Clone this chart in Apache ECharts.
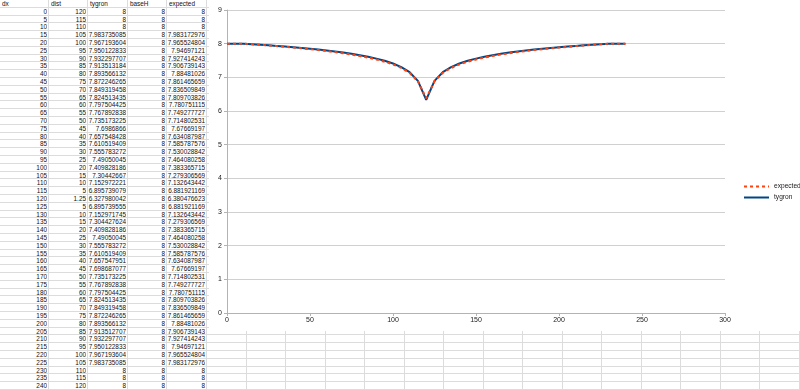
<!DOCTYPE html>
<html><head><meta charset="utf-8">
<script src="https://cdn.jsdelivr.net/npm/echarts@6/dist/echarts.min.js"></script>
<style>
html,body{margin:0;padding:0;background:#fff;width:800px;height:390px;overflow:hidden;}
#sheet{position:absolute;left:0;top:0;width:800px;height:390px;font-family:"Liberation Sans",Arial,sans-serif;font-size:6.4px;color:#111;}
.hl{position:absolute;left:0;width:800px;height:1px;background:#dcdcdc;}
.vl{position:absolute;top:0;width:1px;height:390px;background:#dcdcdc;}
.c{position:absolute;height:7.8px;line-height:7.8px;white-space:nowrap;overflow:hidden;}
#chart{position:absolute;left:209px;top:0;width:591px;height:331px;background:#fff;}
</style></head>
<body>
<div id="sheet"></div>
<div id="chart"></div>
<script>
const headers = ['dx','dist','tygron','baseH','expected'];
const dx = [0,5,10,15,20,25,30,35,40,45,50,55,60,65,70,75,80,85,90,95,100,105,110,115,120,125,130,135,140,145,150,155,160,165,170,175,180,185,190,195,200,205,210,215,220,225,230,235,240];
const dist = [120,115,110,105,100,95,90,85,80,75,70,65,60,55,50,45,40,35,30,25,20,15,10,5,1.25,5,10,15,20,25,30,35,40,45,50,55,60,65,70,75,80,85,90,95,100,105,110,115,120];
const tygron = [8,8,8,7.983735085,7.967193604,7.950122833,7.932297707,7.913513184,7.893566132,7.872246265,7.849319458,7.824513435,7.797504425,7.767892838,7.735173225,7.6986866,7.657548428,7.610519409,7.555783272,7.49050045,7.409828186,7.30442667,7.152972221,6.895739079,6.327980042,6.895739555,7.152971745,7.304427624,7.409828186,7.49050045,7.555783272,7.610519409,7.657547951,7.698687077,7.735173225,7.767892838,7.797504425,7.824513435,7.849319458,7.872246265,7.893566132,7.913512707,7.932297707,7.950122833,7.967193604,7.983735085,8,8,8];
const baseH = [8,8,8,8,8,8,8,8,8,8,8,8,8,8,8,8,8,8,8,8,8,8,8,8,8,8,8,8,8,8,8,8,8,8,8,8,8,8,8,8,8,8,8,8,8,8,8,8,8];
const expected = [8,8,8,7.983172976,7.965524804,7.94697121,7.927414243,7.906739143,7.88481026,7.861465659,7.836509849,7.809703826,7.780751115,7.749277727,7.714802531,7.67669197,7.634087987,7.585787576,7.530028842,7.464080258,7.383365715,7.279306569,7.132643442,6.881921169,6.380476623,6.881921169,7.132643442,7.279306569,7.383365715,7.464080258,7.530028842,7.585787576,7.634087987,7.67669197,7.714802531,7.749277727,7.780751115,7.809703826,7.836509849,7.861465659,7.88481026,7.906739143,7.927414243,7.94697121,7.965524804,7.983172976,8,8,8];
const xTicks = {min:0,max:300,interval:50};
const yTicks = {min:0,max:9,interval:1};

// spreadsheet
const sheet = document.getElementById('sheet');
const rowH = 7.8;
const colEdges = [0,49,88,128,167,207];
let x = 207; while (x < 800) { x += 39.5; colEdges.push(x); }
let html = '';
for (let r = 1; r * rowH < 392; r++) html += `<div class="hl" style="top:${(r*rowH-1).toFixed(2)}px"></div>`;
for (let k = 1; k < colEdges.length; k++) html += `<div class="vl" style="left:${(colEdges[k]-1).toFixed(2)}px"></div>`;
const cols = [dx, dist, tygron, baseH, expected];
headers.forEach((h, j) => {
  html += `<div class="c" style="top:0;left:${colEdges[j]+2}px;width:${colEdges[j+1]-colEdges[j]-3}px">${h}</div>`;
});
for (let i = 0; i < dx.length; i++) {
  cols.forEach((col, j) => {
    html += `<div class="c" style="top:${((i+1)*rowH).toFixed(2)}px;left:${colEdges[j]}px;width:${colEdges[j+1]-colEdges[j]-2}px;text-align:right">${String(col[i])}</div>`;
  });
}
sheet.innerHTML = html;

// chart
const chart = echarts.init(document.getElementById('chart'), null, {renderer:'canvas'});
const lbl = {color:'#222', fontSize:7, fontFamily:'Liberation Sans, Arial, sans-serif'};
chart.setOption({
  animation:false,
  backgroundColor:'#fff',
  grid:{left:18, right:75, top:10, bottom:18, containLabel:false},
  legend:{
    orient:'vertical', left:534, top:183, padding:0, itemWidth:25, itemHeight:8, itemGap:4,
    data:['expected','tygron'],
    itemStyle:{opacity:0},
    textStyle:{fontSize:6.6, color:'#222', fontFamily:'Liberation Sans, Arial, sans-serif'}
  },
  xAxis:{type:'value', min:xTicks.min, max:xTicks.max, interval:xTicks.interval,
    axisLine:{lineStyle:{color:'#b3b3b3'}}, axisTick:{show:true, length:3, lineStyle:{color:'#b3b3b3'}},
    axisLabel:Object.assign({margin:4}, lbl), splitLine:{show:false}},
  yAxis:{type:'value', min:yTicks.min, max:yTicks.max, interval:yTicks.interval,
    axisLine:{show:true, lineStyle:{color:'#b3b3b3'}}, axisTick:{show:true, length:3, lineStyle:{color:'#b3b3b3'}},
    axisLabel:Object.assign({margin:5}, lbl), splitLine:{show:true, lineStyle:{color:'#d0d0d0'}}},
  series:[
    {name:'tygron', type:'line', symbol:'none', data:dx.map((v,i)=>[v,tygron[i]]),
      lineStyle:{color:'#004586', width:2}, itemStyle:{color:'#004586'}},
    {name:'expected', type:'line', symbol:'none', data:dx.map((v,i)=>[v,expected[i]]),
      lineStyle:{color:'#ff420e', width:2, type:[3,3]}, itemStyle:{color:'#ff420e'}}
  ]
});
</script>
</body></html>
